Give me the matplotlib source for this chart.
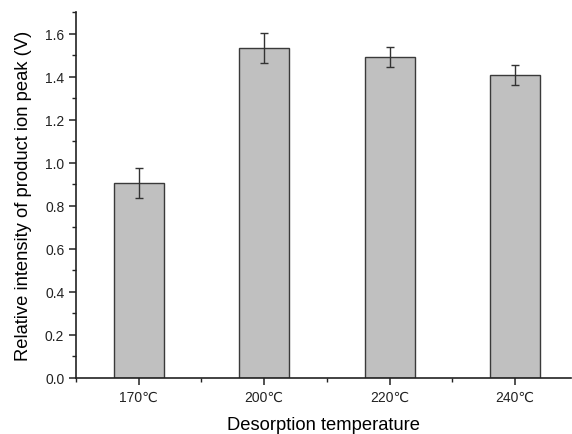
import matplotlib

matplotlib.use("Agg")

import matplotlib.pyplot as plt
import numpy as np
from matplotlib.ticker import MultipleLocator

plt.rcParams["font.family"] = ["Liberation Sans", "DejaVu Sans"]

categories = ["170℃", "200℃", "220℃", "240℃"]
values = [0.905, 1.533, 1.490, 1.409]
errors = [0.070, 0.070, 0.046, 0.047]

fig = plt.figure(figsize=(5.72, 4.35), dpi=100)
ax = fig.add_axes([0.133, 0.129, 0.866, 0.841])

x = np.arange(len(categories))
ax.bar(x, values, width=0.4, color="#c0c0c0", edgecolor="#3a3a3a", linewidth=1.0,
       yerr=errors, capsize=3, error_kw={"ecolor": "#333333", "elinewidth": 1.0, "capthick": 1.0})

ax.set_xlim(-0.5, 3.45)
ax.set_ylim(0, 1.7)
ax.set_xticks(x)
ax.set_xticklabels(categories)
ax.xaxis.set_minor_locator(MultipleLocator(1.0, offset=0.5))
ax.yaxis.set_major_locator(MultipleLocator(0.2))
ax.yaxis.set_minor_locator(MultipleLocator(0.1))
ax.yaxis.set_major_formatter(matplotlib.ticker.FormatStrFormatter("%.1f"))

for side in ("top", "right"):
    ax.spines[side].set_visible(False)
for side in ("left", "bottom"):
    ax.spines[side].set_linewidth(1.2)
    ax.spines[side].set_color("#222222")

ax.tick_params(which="major", direction="out", length=5, width=1.1, labelsize=10, colors="#222222")
ax.tick_params(which="minor", direction="out", length=3, width=1.0, colors="#222222")

ax.set_xlabel("Desorption temperature", fontsize=13.2, labelpad=9)
ax.set_ylabel("Relative intensity of product ion peak (V)", fontsize=13.2, labelpad=9)

fig.savefig("out.png", dpi=100)
